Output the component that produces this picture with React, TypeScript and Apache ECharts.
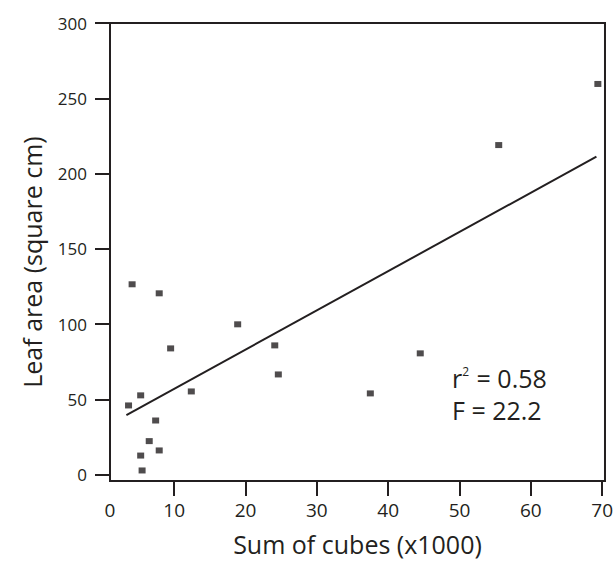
import React, { useEffect, useRef } from "react";
import * as echarts from "echarts";

// Sum of cubes (x1000)
const xValues = [4.1, 7.9, 18.9, 9.5, 24.1, 24.6, 12.4, 5.3, 3.6, 7.4, 6.5, 7.9, 5.3, 5.5, 44.5, 37.5, 55.5, 69.4];
// Leaf area (square cm)
const yValues = [126.4, 120.4, 99.8, 83.8, 85.8, 66.5, 55.2, 52.6, 45.9, 35.9, 22.2, 16.0, 12.6, 2.7, 80.5, 53.9, 218.9, 259.5];

// regression line end points
const fitX = [3.3, 69.2];
const fitY = [39.5, 211.2];

const xTicks = [0, 10, 20, 30, 40, 50, 60, 70];
const yTicks = [0, 50, 100, 150, 200, 250, 300];

const statLines = ["r{sup|2} = 0.58", "F = 22.2"];

const X_MIN = 1.0;
const X_MAX = 70.4;
const Y_MIN = -4.3;
const Y_MAX = 300;

const INK = "#231f20";
const FONT = "Open Sans";

export default function App() {
  const ref = useRef<HTMLDivElement>(null);
  useEffect(() => {
    if (!ref.current) return;
    const chart = echarts.init(ref.current, null, { renderer: "svg" });
    const points = xValues.map((x, i) => [x, yValues[i]]);
    const fit = fitX.map((x, i) => [x, fitY[i]]);
    chart.setOption({
      animation: false,
      backgroundColor: "#ffffff",
      textStyle: { fontFamily: FONT, color: INK },
      grid: {
        left: 110,
        top: 23,
        right: 9,
        bottom: 82,
        show: true,
        borderColor: INK,
        borderWidth: 2,
        backgroundColor: "transparent",
      },
      xAxis: {
        type: "value",
        min: X_MIN,
        max: X_MAX,
        name: "Sum of cubes (x1000)",
        nameLocation: "middle",
        nameGap: 50,
        nameTextStyle: { fontSize: 25, color: INK, fontFamily: FONT },
        axisLine: { show: true, onZero: false, lineStyle: { color: INK, width: 2 } },
        axisTick: {
          show: true,
          length: 15,
          lineStyle: { color: INK, width: 2 },
          customValues: xTicks.filter((v) => v >= X_MIN),
        },
        axisLabel: {
          show: true,
          margin: 19,
          fontSize: 19,
          color: INK,
          fontFamily: FONT,
          customValues: xTicks.map((v) => (v < X_MIN ? X_MIN : v)),
          formatter: (v: number) => String(v < X_MIN + 0.01 ? 0 : Math.round(v)),
        },
        splitLine: { show: false },
      },
      yAxis: {
        type: "value",
        min: Y_MIN,
        max: Y_MAX,
        name: "Leaf area (square cm)",
        nameLocation: "middle",
        nameGap: 66,
        nameTextStyle: { fontSize: 25, color: INK, fontFamily: FONT, padding: [0, 20, 0, 0] },
        axisLine: { show: true, onZero: false, lineStyle: { color: INK, width: 2 } },
        axisTick: {
          show: true,
          length: 15,
          lineStyle: { color: INK, width: 2 },
          customValues: yTicks,
        },
        axisLabel: {
          show: true,
          margin: 23,
          fontSize: 17,
          color: INK,
          fontFamily: FONT,
          customValues: yTicks,
        },
        splitLine: { show: false },
      },
      series: [
        {
          type: "line",
          data: fit,
          showSymbol: false,
          symbol: "none",
          lineStyle: { color: INK, width: 2 },
          z: 2,
        },
        {
          type: "scatter",
          data: points,
          symbol: "rect",
          symbolSize: [7, 6],
          itemStyle: { color: INK },
          z: 3,
        },
      ],
      graphic: statLines.map((t, i) => ({
        type: "text",
        left: 452,
        top: 365 + i * 32,
        style: {
          text: t,
          fontSize: 25,
          fontFamily: FONT,
          fill: INK,
          rich: {
            sup: { fontSize: 12, padding: [0, 1, 13, 0], fontFamily: FONT, fill: INK },
          },
        },
      })),
    });
    return () => chart.dispose();
  }, []);
  return (
    <div
      ref={ref}
      style={{ position: "fixed", left: 0, top: 0, width: 616, height: 563, background: "#fff" }}
    />
  );
}
